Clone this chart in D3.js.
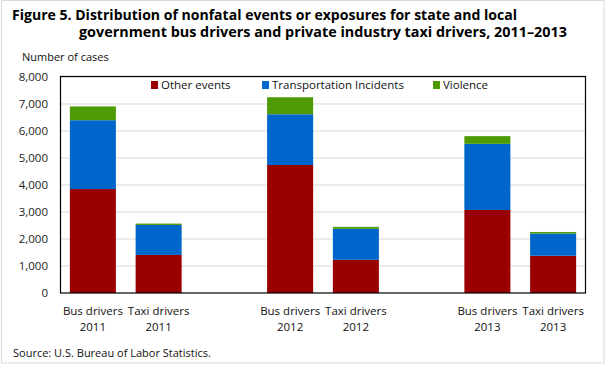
<!DOCTYPE html>
<html><head><meta charset="utf-8">
<script src="https://cdn.jsdelivr.net/npm/d3@7"></script>
<style>body{margin:0;background:#fff}svg{display:block}text{font-family:"Open Sans",sans-serif}</style>
</head><body>
<svg id="c" width="606" height="365"></svg>
<script>
const categories = ["Bus drivers|2011","Taxi drivers|2011","gap1","Bus drivers|2012","Taxi drivers|2012","gap2","Bus drivers|2013","Taxi drivers|2013"];
const seriesNames = ["Other events","Transportation Incidents","Violence"];
const colors = ["#990000","#0066CC","#4E9A06"];
const otherEvents   = [3850, 1410, null, 4740, 1230, null, 3075, 1380];
const transportation= [2550, 1110, null, 1880, 1145, null, 2450, 820];
const violence      = [510,   50,  null, 630,   75,  null, 285,   60];
const yTicks = [0,1000,2000,3000,4000,5000,6000,7000,8000];

const svg = d3.select("#c");
svg.append("rect").attr("x",1.5).attr("y",0.5).attr("width",602.5).attr("height",362.5)
  .attr("fill","#fff").attr("stroke","#d9d9d9");

const m = {l:60, r:586, t:77, b:293};
const x = d3.scaleBand().domain(categories).range([m.l,m.r]).paddingInner(0.3).paddingOuter(0.15);
const y = d3.scaleLinear().domain([0,8000]).range([m.b,m.t]);

// grid
svg.append("g").selectAll("line").data(yTicks.filter(d=>d>0)).join("line")
  .attr("x1",m.l).attr("x2",m.r).attr("y1",d=>y(d)).attr("y2",d=>y(d))
  .attr("stroke","#d9d9d9").attr("stroke-width",1);

// stacked bars
const rows = categories.map((c,i)=>({cat:c, s0:otherEvents[i], s1:transportation[i], s2:violence[i]}))
  .filter(r=>r.s0!=null);
const stack = d3.stack().keys(["s0","s1","s2"])(rows);
svg.append("g").selectAll("g").data(stack).join("g").attr("fill",(d,i)=>colors[i])
  .selectAll("rect").data(d=>d).join("rect")
  .attr("x",d=>x(d.data.cat)).attr("width",x.bandwidth())
  .attr("y",d=>y(d[1])).attr("height",d=>y(d[0])-y(d[1]));

// frame
svg.append("rect").attr("x",m.l+0.5).attr("y",m.t-0.5).attr("width",m.r-m.l-1).attr("height",m.b-m.t+0.5)
  .attr("fill","none").attr("stroke","#000").attr("stroke-width",1.2);

// y axis labels
const ya = svg.append("g").attr("transform",`translate(${m.l},0)`)
  .call(d3.axisLeft(y).tickValues(yTicks).tickFormat(d3.format(",")).tickSize(0).tickPadding(12));
ya.select(".domain").remove();
ya.selectAll("text").attr("font-family","'Open Sans',sans-serif").attr("font-size",11.5).attr("fill","#222");

// x labels
const xl = svg.append("g").selectAll("text").data(rows).join("text")
  .attr("text-anchor","middle").attr("font-size",11.5).attr("fill","#111")
  .attr("transform",d=>`translate(${x(d.cat)+x.bandwidth()/2},0)`);
xl.append("tspan").attr("x",0).attr("y",315).text(d=>d.cat.split("|")[0]);
xl.append("tspan").attr("x",0).attr("y",331).text(d=>d.cat.split("|")[1]);

// legend
const legX = [151, 262, 433];
const lg = svg.append("g").selectAll("g").data(seriesNames).join("g")
  .attr("transform",(d,i)=>`translate(${legX[i]},81)`);
lg.append("rect").attr("width",7).attr("height",8).attr("fill",(d,i)=>colors[i]);
lg.append("text").attr("x",10).attr("y",8).attr("font-size",11.5).attr("fill","#111").text(d=>d);

// title
svg.append("text").attr("x",12).attr("y",20).attr("font-weight","bold").attr("font-size",14.5)
  .attr("font-family","'Liberation Sans',sans-serif")
  .attr("textLength",505).attr("lengthAdjust","spacingAndGlyphs")
  .text("Figure 5. Distribution of nonfatal events or exposures for state and local");
svg.append("text").attr("x",79).attr("y",37).attr("font-weight","bold").attr("font-size",14.5)
  .attr("font-family","'Liberation Sans',sans-serif")
  .attr("textLength",488).attr("lengthAdjust","spacingAndGlyphs")
  .text("government bus drivers and private industry taxi drivers, 2011\u20132013");

svg.append("text").attr("x",22).attr("y",61).attr("font-size",11).attr("fill","#111").text("Number of cases");
svg.append("text").attr("x",13).attr("y",357).attr("font-size",11).attr("fill","#111").text("Source: U.S. Bureau of Labor Statistics.");
</script>
</body></html>
